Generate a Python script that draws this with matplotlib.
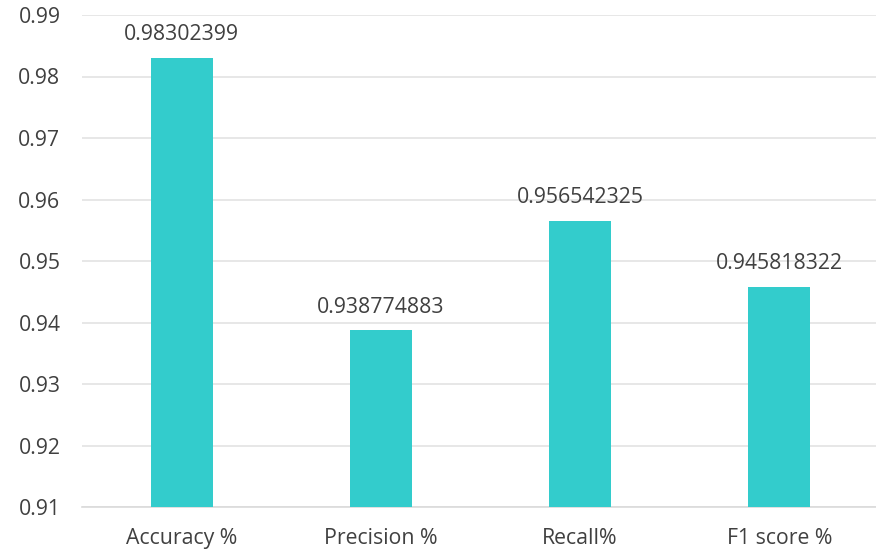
import matplotlib.pyplot as plt

categories = ["Accuracy %", "Precision %", "Recall%", "F1 score %"]
values = [0.98302399, 0.938774883, 0.956542325, 0.945818322]
labels = ["0.98302399", "0.938774883", "0.956542325", "0.945818322"]
yticks = [0.91, 0.92, 0.93, 0.94, 0.95, 0.96, 0.97, 0.98, 0.99]

plt.rcParams['font.family'] = ['Open Sans', 'DejaVu Sans']
text_color = '#404040'

fig = plt.figure(figsize=(8.76, 5.5), dpi=100)
ax = fig.add_axes([82 / 876, 43 / 550, 794 / 876, 492 / 550])

x = list(range(len(categories)))
bars = ax.bar(x, values, width=0.311, color='#33CCCC', zorder=3)

# value labels over each bar
for b, lab in zip(bars, labels):
    ax.annotate(lab, (b.get_x() + b.get_width() / 2, b.get_height()),
                xytext=(0, 9), textcoords='offset points',
                ha='center', va='bottom', fontsize=15.3, color=text_color)

ax.set_ylim(0.91, 0.99)
ax.set_xlim(-0.5, 3.486)
ax.set_yticks(yticks)
ax.set_yticklabels([f"{t:.2f}" for t in yticks])
ax.set_xticks(x)
ax.set_xticklabels(categories)
ax.yaxis.grid(True, color='#E3E3E3', linewidth=1.2, zorder=0)
for s in ['top', 'right', 'left']:
    ax.spines[s].set_visible(False)
ax.spines['bottom'].set_color('#DADADA')
ax.spines['bottom'].set_linewidth(1.2)
ax.tick_params(axis='both', length=0, labelsize=15.3, colors=text_color)
ax.tick_params(axis='y', pad=15.5)
ax.tick_params(axis='x', pad=15)

fig.savefig('out.png', dpi=100)
